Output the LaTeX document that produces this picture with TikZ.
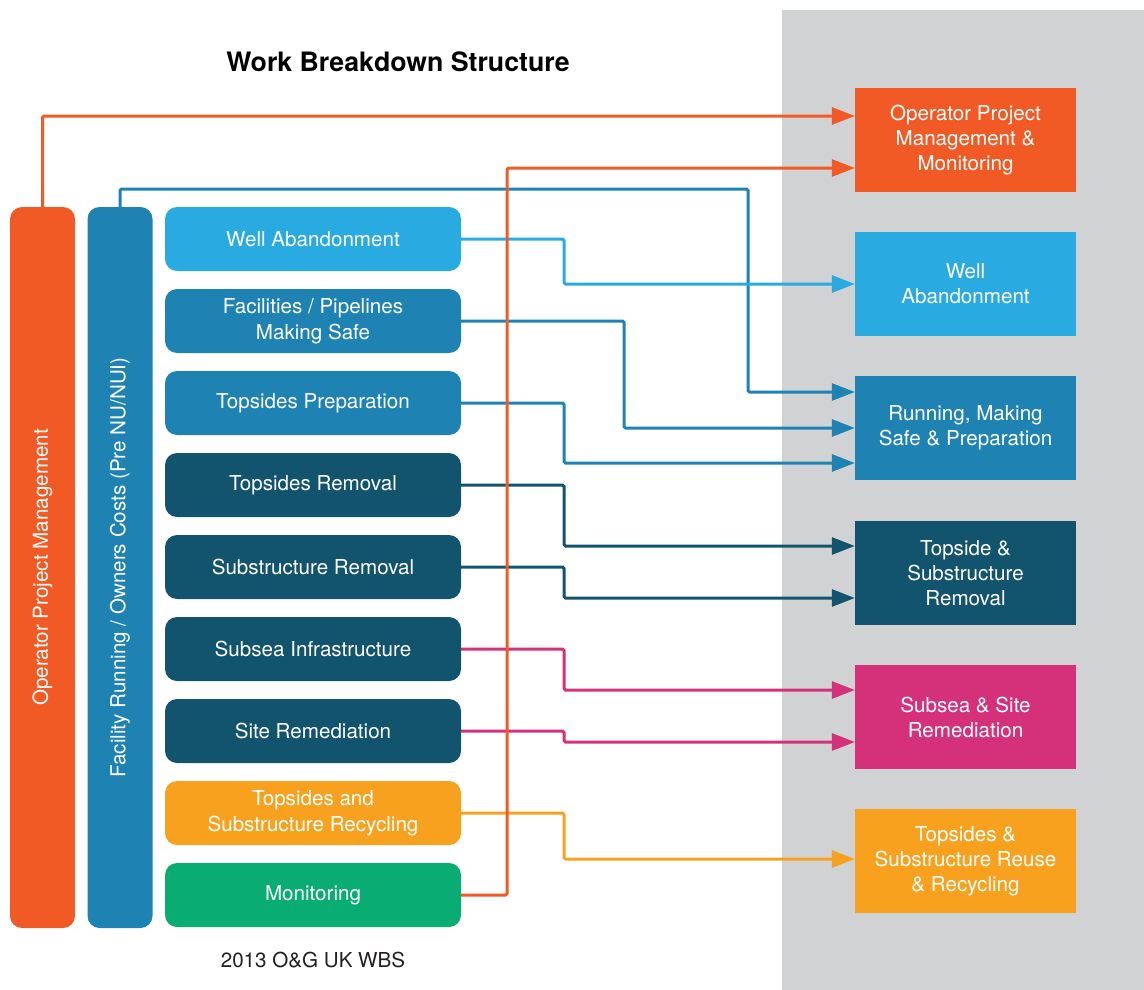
\documentclass[tikz,border=0pt]{standalone}
\usepackage{fontspec}
\setmainfont{TeX Gyre Heros}
\usetikzlibrary{arrows.meta}

\definecolor{cOrange}{HTML}{F15A24}
\definecolor{cSky}{HTML}{29ABE2}
\definecolor{cBlue}{HTML}{1E83B3}
\definecolor{cNavy}{HTML}{12546E}
\definecolor{cMagenta}{HTML}{D4317A}
\definecolor{cAmber}{HTML}{F7A11E}
\definecolor{cGreen}{HTML}{09AC72}
\definecolor{cPanel}{HTML}{D1D2D4}
\definecolor{cCaption}{HTML}{231F20}

\tikzset{
  boxfont/.style={font=\fontsize{20.6}{26}\selectfont},
  bar/.style={boxfont, rotate=90, rounded corners=12pt, minimum width=721pt,
    minimum height=65pt, inner sep=0pt, text=white, align=center},
  task/.style={boxfont, rounded corners=12pt, minimum width=296pt,
    minimum height=64pt, inner sep=0pt, text=white, align=center},
  group/.style={minimum width=221pt, minimum height=104pt,
    inner sep=0pt, text=white, align=center, font=\fontsize{20.6}{25}\selectfont},
  conn/.style={line width=3pt, rounded corners=1.5pt,
    -{Triangle[length=23pt,width=17pt]}},
}

\begin{document}
\begin{tikzpicture}[x=1pt,y=-1pt]
\useasboundingbox (0,0) rectangle (1144,990);
% grey panel behind the grouped categories
\fill[cPanel] (782,10) rectangle (1144,990);

\node[font=\bfseries\fontsize{26.7}{30}\selectfont] (title) at (398,62) {Work Breakdown Structure};

% vertical bars
\node[bar, fill=cOrange] (opbar) at (42.5,567.5) {Operator Project Management};
\node[bar, fill=cBlue] (fcbar) at (120,567.5) {Facility Running / Owners Costs (Pre NU/NUI)};

% WBS tasks
\node[task, fill=cSky]   (wa)  at (313,239) {Well Abandonment};
\node[task, fill=cBlue]  (fp)  at (313,321) {Facilities / Pipelines\\Making Safe};
\node[task, fill=cBlue]  (tp)  at (313,403) {Topsides Preparation};
\node[task, fill=cNavy]  (tr)  at (313,485) {Topsides Removal};
\node[task, fill=cNavy]  (sr)  at (313,567) {Substructure Removal};
\node[task, fill=cNavy]  (si)  at (313,649) {Subsea Infrastructure};
\node[task, fill=cNavy]  (rem) at (313,731) {Site Remediation};
\node[task, fill=cAmber] (rec) at (313,813) {Topsides and\\Substructure Recycling};
\node[task, fill=cGreen] (mon) at (313,895) {Monitoring};

\node[font=\fontsize{20.6}{24}\selectfont, text=cCaption] (cap) at (313,960) {2013 O\&G UK WBS};

% grouped categories
\node[group, fill=cOrange]  (gop)  at (965.5,140) {Operator Project\\Management \&\\Monitoring};
\node[group, fill=cSky]     (gwa)  at (965.5,284) {Well\\Abandonment};
\node[group, fill=cBlue]    (grun) at (965.5,428) {Running, Making\\Safe \& Preparation};
\node[group, fill=cNavy]    (grem) at (965.5,573) {Topside \&\\Substructure\\Removal};
\node[group, fill=cMagenta] (gsub) at (965.5,717) {Subsea \& Site\\Remediation};
\node[group, fill=cAmber]   (grec) at (965.5,861) {Topsides \&\\Substructure Reuse\\\& Recycling};

% connectors
\draw[conn, cBlue] (fcbar.east) -- (120,189) -- (748,189) |- ([yshift=36pt]grun.west);
\draw[conn, cSky] (wa.east) -- (564,239) |- (gwa.west);
\draw[conn, cBlue] (fp.east) -- (624,321) |- (grun.west);
\draw[conn, cBlue] (tp.east) -- (564,403) |- ([yshift=-35pt]grun.west);
\draw[conn, cNavy] (tr.east) -- (564,485) |- ([yshift=27pt]grem.west);
\draw[conn, cNavy] (sr.east) -- (564,567) |- ([yshift=-25pt]grem.west);
\draw[conn, cMagenta] (si.east) -- (564,649) |- ([yshift=27pt]gsub.west);
\draw[conn, cMagenta] (rem.east) -- (564,731) |- ([yshift=-25pt]gsub.west);
\draw[conn, cAmber] (rec.east) -- (564,813) |- ([yshift=2pt]grec.west);
\draw[conn, cOrange] (opbar.east) |- ([yshift=24pt]gop.west);
\draw[conn, cOrange] (mon.east) -- (507,895) |- ([yshift=-28pt]gop.west);
\end{tikzpicture}
\end{document}
